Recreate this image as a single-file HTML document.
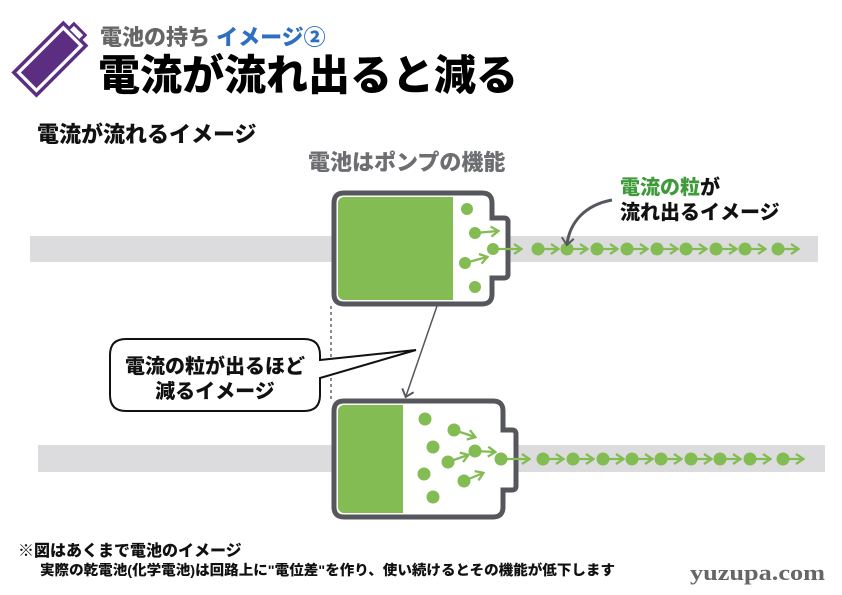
<!DOCTYPE html>
<html><head><meta charset="utf-8"><style>
html,body{margin:0;padding:0;background:#fff;}
svg{display:block;font-family:"Liberation Sans","Noto Sans CJK JP",sans-serif;}
</style></head><body>
<svg width="842" height="595" viewBox="0 0 842 595" xmlns="http://www.w3.org/2000/svg">
<defs>
<marker id="ga" markerWidth="10" markerHeight="12" refX="8" refY="6" orient="auto" markerUnits="userSpaceOnUse"><path d="M1,1 L8.5,6 L1,11" fill="none" stroke="#84bc54" stroke-width="2.3"/></marker>
<marker id="da" markerWidth="14" markerHeight="14" refX="7" refY="7" orient="auto" markerUnits="userSpaceOnUse"><path d="M1,1 L8,7 L1,13" fill="none" stroke="#55575c" stroke-width="2"/></marker>
</defs>
<!-- icon -->
<g transform="translate(52,57) rotate(-45)">
<rect x="-38" y="-16" width="70" height="32" fill="#fff" stroke="#5b2e82" stroke-width="3.5"/>
<rect x="-33" y="-11" width="60" height="22" fill="#5b2e82"/>
<path d="M32,-8 h7 v16 h-7" fill="#fff" stroke="#5b2e82" stroke-width="3"/>
</g>
<text x="100" y="45" font-size="22" font-weight="900" fill="#666">電池の持ち <tspan fill="#2f6fc0">イメージ②</tspan></text>
<text x="98" y="90" font-size="42" font-weight="900" fill="#000">電流が流れ出ると減る</text>
<text x="37" y="142" font-size="22" font-weight="900" fill="#111">電流が流れるイメージ</text>
<text x="308" y="170" font-size="22" font-weight="900" fill="#6d6e71">電池はポンプの機能</text>
<!-- bands -->
<rect x="30" y="236" width="788" height="26" fill="#dcdcde"/>
<rect x="38" y="445" width="787" height="27" fill="#dcdcde"/>
<!-- top battery -->
<path d="M344,193 H482 Q492,193 492,203 V218 H504 Q508,218 508,222 V274 Q508,278 504,278 H492 V294 Q492,304 482,304 H344 Q334,304 334,294 V203 Q334,193 344,193 Z" fill="#fff" stroke="#55575c" stroke-width="5"/>
<rect x="338" y="197" width="115" height="103" rx="6" fill="#84bc54"/>
<rect x="448" y="197" width="5" height="103" fill="#84bc54"/>
<g fill="#84bc54">
<circle cx="467" cy="209" r="6"/><circle cx="475" cy="233" r="6"/><circle cx="493" cy="249" r="6"/><circle cx="465" cy="263" r="6"/><circle cx="475" cy="287" r="6"/>
</g>
<g stroke="#84bc54" stroke-width="2.3" marker-end="url(#ga)">
<line x1="475" y1="233" x2="498" y2="231"/><line x1="465" y1="263" x2="487" y2="257"/><line x1="493" y1="249" x2="521" y2="249"/>
</g>
<g fill="#84bc54" stroke="#84bc54" stroke-width="2.3">
<g transform="translate(538,249)"><circle r="6.5" stroke="none"/><line x1="0" y1="0" x2="20" y2="0" marker-end="url(#ga)"/></g>
<g transform="translate(567,249)"><circle r="6.5" stroke="none"/><line x1="0" y1="0" x2="20" y2="0" marker-end="url(#ga)"/></g>
<g transform="translate(597,249)"><circle r="6.5" stroke="none"/><line x1="0" y1="0" x2="20" y2="0" marker-end="url(#ga)"/></g>
<g transform="translate(627,249)"><circle r="6.5" stroke="none"/><line x1="0" y1="0" x2="20" y2="0" marker-end="url(#ga)"/></g>
<g transform="translate(657,249)"><circle r="6.5" stroke="none"/><line x1="0" y1="0" x2="20" y2="0" marker-end="url(#ga)"/></g>
<g transform="translate(686,249)"><circle r="6.5" stroke="none"/><line x1="0" y1="0" x2="20" y2="0" marker-end="url(#ga)"/></g>
<g transform="translate(716,249)"><circle r="6.5" stroke="none"/><line x1="0" y1="0" x2="20" y2="0" marker-end="url(#ga)"/></g>
<g transform="translate(745,249)"><circle r="6.5" stroke="none"/><line x1="0" y1="0" x2="20" y2="0" marker-end="url(#ga)"/></g>
<g transform="translate(778,249)"><circle r="6.5" stroke="none"/><line x1="0" y1="0" x2="20" y2="0" marker-end="url(#ga)"/></g>
</g>
<!-- label top right -->
<text x="620" y="194" font-size="20" font-weight="900" fill="#3f9a3a">電流の粒<tspan fill="#111">が</tspan></text>
<text x="620" y="219" font-size="20" font-weight="900" fill="#111">流れ出るイメージ</text>
<path d="M612,200 C585,205 570,222 567,244" fill="none" stroke="#55575c" stroke-width="3" marker-end="url(#da)"/>
<!-- dashed & arrow -->
<line x1="331" y1="306" x2="331" y2="400" stroke="#666" stroke-width="1.5" stroke-dasharray="3,3"/>
<line x1="437" y1="306" x2="406" y2="396" stroke="#55575c" stroke-width="1.5" marker-end="url(#da)"/>
<!-- callout -->
<path d="M126,339 H304 Q320,339 320,355 V360 L416,350 L320,378 V395 Q320,411 304,411 H126 Q110,411 110,395 V355 Q110,339 126,339 Z" fill="#fff" stroke="#111" stroke-width="2"/>
<text x="215" y="373" font-size="20" font-weight="900" fill="#111" text-anchor="middle">電流の粒が出るほど</text>
<text x="215" y="398" font-size="20" font-weight="900" fill="#111" text-anchor="middle">減るイメージ</text>
<!-- bottom battery -->
<path d="M344,401 H493 Q503,401 503,411 V430 H512 Q516,430 516,434 V486 Q516,490 512,490 H503 V507 Q503,517 493,517 H344 Q334,517 334,507 V411 Q334,401 344,401 Z" fill="#fff" stroke="#55575c" stroke-width="5"/>
<rect x="338" y="405" width="65" height="108" rx="6" fill="#84bc54"/>
<rect x="395" y="405" width="8" height="108" fill="#84bc54"/>
<g fill="#84bc54">
<circle cx="425" cy="419" r="6.5"/><circle cx="454" cy="430" r="6.5"/><circle cx="433" cy="447" r="6.5"/><circle cx="475" cy="451" r="6.5"/><circle cx="448" cy="462" r="6.5"/><circle cx="501" cy="459" r="6.5"/><circle cx="424" cy="474" r="6.5"/><circle cx="464" cy="481" r="6.5"/><circle cx="433" cy="497" r="6.5"/>
</g>
<g stroke="#84bc54" stroke-width="2.3" marker-end="url(#ga)">
<line x1="454" y1="430" x2="475" y2="437"/><line x1="475" y1="451" x2="495" y2="452"/><line x1="448" y1="462" x2="468" y2="455"/><line x1="464" y1="481" x2="483" y2="473"/><line x1="501" y1="459" x2="529" y2="459"/>
</g>
<g fill="#84bc54" stroke="#84bc54" stroke-width="2.3">
<g transform="translate(543,459)"><circle r="6.5" stroke="none"/><line x1="0" y1="0" x2="20" y2="0" marker-end="url(#ga)"/></g>
<g transform="translate(573,459)"><circle r="6.5" stroke="none"/><line x1="0" y1="0" x2="20" y2="0" marker-end="url(#ga)"/></g>
<g transform="translate(603,459)"><circle r="6.5" stroke="none"/><line x1="0" y1="0" x2="20" y2="0" marker-end="url(#ga)"/></g>
<g transform="translate(632,459)"><circle r="6.5" stroke="none"/><line x1="0" y1="0" x2="20" y2="0" marker-end="url(#ga)"/></g>
<g transform="translate(661,459)"><circle r="6.5" stroke="none"/><line x1="0" y1="0" x2="20" y2="0" marker-end="url(#ga)"/></g>
<g transform="translate(691,459)"><circle r="6.5" stroke="none"/><line x1="0" y1="0" x2="20" y2="0" marker-end="url(#ga)"/></g>
<g transform="translate(720,459)"><circle r="6.5" stroke="none"/><line x1="0" y1="0" x2="20" y2="0" marker-end="url(#ga)"/></g>
<g transform="translate(750,459)"><circle r="6.5" stroke="none"/><line x1="0" y1="0" x2="20" y2="0" marker-end="url(#ga)"/></g>
<g transform="translate(783,459)"><circle r="6.5" stroke="none"/><line x1="0" y1="0" x2="20" y2="0" marker-end="url(#ga)"/></g>
</g>
<!-- footer -->
<text x="18" y="556" font-size="16" font-weight="900" fill="#111">※図はあくまで電池のイメージ</text>
<text x="40" y="575" font-size="14" font-weight="900" fill="#111" textLength="575" lengthAdjust="spacingAndGlyphs">実際の乾電池(化学電池)は回路上に"電位差"を作り、使い続けるとその機能が低下します</text>
<text x="690" y="580" font-size="22" font-weight="bold" fill="#666" font-family="'Liberation Serif',serif" textLength="135" lengthAdjust="spacingAndGlyphs">yuzupa.com</text>
</svg>
</body></html>
